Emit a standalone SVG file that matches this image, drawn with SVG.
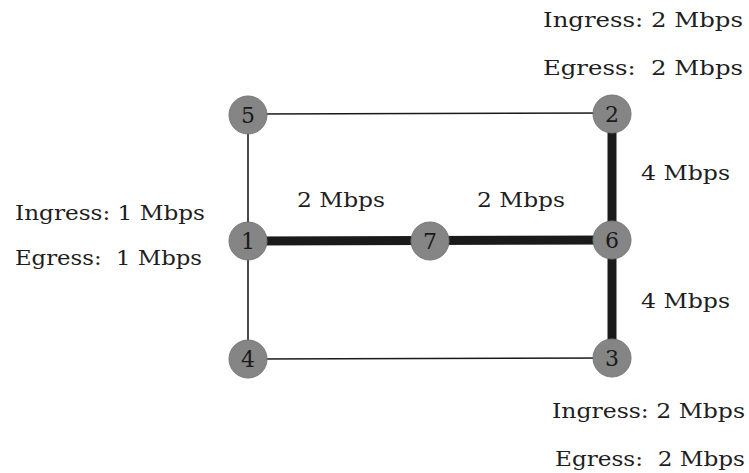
<svg xmlns="http://www.w3.org/2000/svg" width="749" height="473" viewBox="0 0 749 473">
  <style>
    .thin { stroke: #1a1a1a; stroke-width: 1.6; fill: none; }
    .thick { stroke: #1a1a1a; stroke-width: 9; fill: none; }
    .node circle { fill: #858585; stroke: #777; stroke-width: 1; }
    .node text { font-family: "DejaVu Serif", "Liberation Serif", serif; font-size: 22px; fill: #1a1a1a; text-anchor: middle; }
    .lbl { font-family: "DejaVu Serif", "Liberation Serif", serif; font-size: 20px; fill: #1e1e1e; white-space: pre; }
  </style>
  <rect width="749" height="473" fill="#ffffff"/>

  <g id="connectors">
    <line class="thin" x1="248" y1="114" x2="612" y2="113"/>
    <line class="thin" x1="248" y1="114" x2="248" y2="359"/>
    <line class="thin" x1="248" y1="359" x2="612" y2="358"/>
    <line class="thick" x1="248" y1="241" x2="612" y2="240"/>
    <line class="thick" x1="612" y1="113" x2="612" y2="358"/>
  </g>

  <g id="node5" class="node"><circle cx="248" cy="115" r="19"/><text x="248" y="123">5</text></g>
  <g id="node2" class="node"><circle cx="612" cy="114" r="19"/><text x="612" y="122">2</text></g>
  <g id="node1" class="node"><circle cx="248" cy="241" r="19"/><text x="248" y="249">1</text></g>
  <g id="node7" class="node"><circle cx="430" cy="241" r="19"/><text x="430" y="249">7</text></g>
  <g id="node6" class="node"><circle cx="612" cy="240" r="19"/><text x="612" y="248">6</text></g>
  <g id="node4" class="node"><circle cx="248" cy="359" r="19"/><text x="248" y="367">4</text></g>
  <g id="node3" class="node"><circle cx="612" cy="358" r="19"/><text x="612" y="366">3</text></g>

  <g id="labels">
    <text class="lbl" x="543" y="27" textLength="200" lengthAdjust="spacingAndGlyphs">Ingress: 2 Mbps</text>
    <text class="lbl" x="543" y="75" textLength="200" lengthAdjust="spacingAndGlyphs">Egress:  2 Mbps</text>
    <text class="lbl" x="15" y="220" textLength="190" lengthAdjust="spacingAndGlyphs">Ingress: 1 Mbps</text>
    <text class="lbl" x="15" y="265" textLength="187" lengthAdjust="spacingAndGlyphs">Egress:  1 Mbps</text>
    <text class="lbl" x="297" y="207" textLength="88" lengthAdjust="spacingAndGlyphs">2 Mbps</text>
    <text class="lbl" x="477" y="207" textLength="88" lengthAdjust="spacingAndGlyphs">2 Mbps</text>
    <text class="lbl" x="641" y="180" textLength="89" lengthAdjust="spacingAndGlyphs">4 Mbps</text>
    <text class="lbl" x="641" y="308" textLength="89" lengthAdjust="spacingAndGlyphs">4 Mbps</text>
    <text class="lbl" x="552" y="418" textLength="193" lengthAdjust="spacingAndGlyphs">Ingress: 2 Mbps</text>
    <text class="lbl" x="555" y="466" textLength="190" lengthAdjust="spacingAndGlyphs">Egress:  2 Mbps</text>
  </g>
</svg>
